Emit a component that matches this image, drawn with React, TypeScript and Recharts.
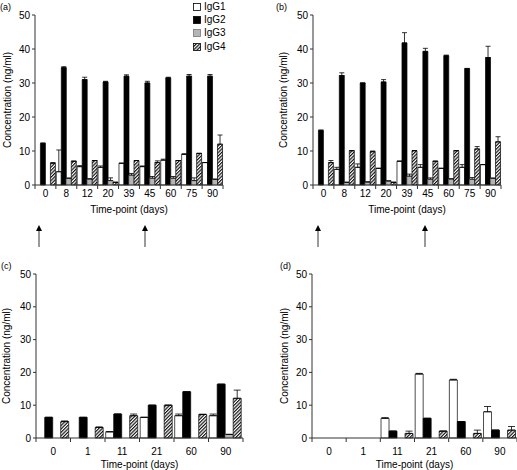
import React from 'react';
import { BarChart, Bar, XAxis, YAxis, Legend, ErrorBar } from 'recharts';

const FONT = '"Liberation Sans", Arial, Helvetica, sans-serif';

// categories (time-points in days)
const daysAB = ['0', '8', '12', '20', '39', '45', '60', '75', '90'];
const daysCD = ['0', '1', '11', '21', '60', '90'];
const yTicks = [0, 10, 20, 30, 40, 50];

// panel (a)
const aIgG1 = [0, 3.9, 5.4, 5.2, 6.4, 5.4, 7.3, 9.0, 6.6];
const aIgG1Err = [0, 6.4, 0.3, 0.4, 0, 0.2, 0.3, 0.2, 0];
const aIgG2 = [12.2, 34.5, 31, 30.3, 32, 30, 31.5, 32, 32];
const aIgG2Err = [0.2, 0.3, 0.7, 0.2, 0.4, 0.5, 0.2, 0.5, 0.5];
const aIgG3 = [0, 2, 1.8, 1.3, 2.9, 2, 2, 1.3, 1.7];
const aIgG3Err = [0, 0, 0, 0.8, 0.5, 0.5, 0.5, 0.8, 0];
const aIgG4 = [6.4, 7, 7.2, 0.8, 7.2, 6.6, 7.2, 9.3, 12];
const aIgG4Err = [0.2, 0, 0, 0, 0, 0.5, 0, 0, 2.7];

// panel (b)
const bIgG1 = [0, 4.6, 5.2, 4.9, 7, 5.2, 4.9, 5.2, 6];
const bIgG1Err = [0, 0.6, 1, 0, 0, 0.8, 0, 0.8, 0];
const bIgG2 = [16, 32.2, 30, 30.3, 41.8, 39.3, 38, 34.2, 37.5];
const bIgG2Err = [0.2, 0.8, 0, 0.7, 3, 0.9, 0.2, 0.1, 3.3];
const bIgG3 = [0, 0.8, 0.9, 1.2, 2.6, 1.7, 1.8, 1.7, 2];
const bIgG3Err = [0, 0, 0, 0, 0.6, 0.4, 0, 0.5, 0];
const bIgG4 = [6.6, 10.1, 9.8, 0.8, 10.1, 7, 10.1, 10.6, 12.7];
const bIgG4Err = [0.6, 0, 0.2, 0, 0, 0, 0, 0.7, 1.5];

// panel (c)
const cIgG1 = [0, 0, 1.9, 6.3, 6.8, 6.8];
const cIgG1Err = [0, 0, 0, 0, 0.5, 0.5];
const cIgG2 = [6.3, 6.3, 7.3, 10, 14.1, 16.4];
const cIgG2Err = [0, 0, 0, 0, 0, 0];
const cIgG3 = [0, 0, 0, 0, 0, 1.1];
const cIgG3Err = [0, 0, 0, 0, 0, 0];
const cIgG4 = [5.0, 3.2, 6.8, 10, 7.2, 12.1];
const cIgG4Err = [0.2, 0.2, 0.5, 0, 0, 2.5];

// panel (d)
const dIgG1 = [0, 0, 6, 19.5, 17.7, 8.0];
const dIgG1Err = [0, 0, 0.2, 0.2, 0.2, 1.6];
const dIgG2 = [0, 0, 2.1, 6, 5, 2.4];
const dIgG2Err = [0, 0, 0, 0, 0, 0];
const dIgG3 = [0, 0, 0, 0, 0, 0];
const dIgG3Err = [0, 0, 0, 0, 0, 0];
const dIgG4 = [0, 0, 1.4, 2.1, 1.4, 2.4];
const dIgG4Err = [0, 0, 0.7, 0, 1, 1.1];

const SERIES = [
  { key: 'g1', err: 'e1', name: 'IgG1', fill: '#ffffff', stroke: '#000' },
  { key: 'g2', err: 'e2', name: 'IgG2', fill: '#000000', stroke: '#000' },
  { key: 'g3', err: 'e3', name: 'IgG3', fill: '#b5b5b5', stroke: '#777' },
  { key: 'g4', err: 'e4', name: 'IgG4', fill: 'url(#hatch)', stroke: '#000' },
];

const buildRows = (
  days: string[],
  s: number[][],
  e: number[][],
) =>
  days.map((day, i) => ({
    day,
    g1: s[0][i], g2: s[1][i], g3: s[2][i], g4: s[3][i],
    // one-sided (upward) error bars
    e1: [0, e[0][i]], e2: [0, e[1][i]], e3: [0, e[2][i]], e4: [0, e[3][i]],
  }));

const rowsA = buildRows(daysAB, [aIgG1, aIgG2, aIgG3, aIgG4], [aIgG1Err, aIgG2Err, aIgG3Err, aIgG4Err]);
const rowsB = buildRows(daysAB, [bIgG1, bIgG2, bIgG3, bIgG4], [bIgG1Err, bIgG2Err, bIgG3Err, bIgG4Err]);
const rowsC = buildRows(daysCD, [cIgG1, cIgG2, cIgG3, cIgG4], [cIgG1Err, cIgG2Err, cIgG3Err, cIgG4Err]);
const rowsD = buildRows(daysCD, [dIgG1, dIgG2, dIgG3, dIgG4], [dIgG1Err, dIgG2Err, dIgG3Err, dIgG4Err]);

const legendContent = () => (
  <div style={{ fontFamily: FONT, fontSize: 10, color: '#000' }}>
    {SERIES.map((s) => (
      <div key={s.key} style={{ display: 'flex', alignItems: 'center', height: 13.3 }}>
        <svg width={8} height={8} style={{ display: 'block' }}>
          <rect x={0.5} y={0.5} width={7} height={7} fill={s.fill} stroke={s.stroke} strokeWidth={0.8} />
        </svg>
        <span style={{ marginLeft: 3, lineHeight: '10px' }}>{s.name}</span>
      </div>
    ))}
  </div>
);

interface PanelProps {
  rows: any[];
  left: number;
  top: number;
  width: number;
  height: number;
  marginTop: number;
  marginRight: number;
  yWidth: number;
  xHeight: number;
  labelDy: number;
  titleDy: number;
  yTitleX: number;
  capWidth: number;
  showLegend?: boolean;
}

const Panel: React.FC<PanelProps> = ({
  rows, left, top, width, height, marginTop, marginRight, yWidth, xHeight,
  labelDy, titleDy, yTitleX, capWidth, showLegend,
}) => {
  const n = rows.length;
  const band = (width - marginRight - yWidth) / n;

  const renderXTick = (props: any) => {
    const { x, y, payload, index } = props;
    return (
      <g>
        <line x1={x - band / 2} x2={x - band / 2} y1={y} y2={y + 4} stroke="#333" />
        {index === n - 1 && <line x1={x + band / 2} x2={x + band / 2} y1={y} y2={y + 4} stroke="#333" />}
        <text x={x} y={y + labelDy} textAnchor="middle" dominantBaseline="central" fontSize={10} fontFamily={FONT} fill="#000">
          {payload.value}
        </text>
      </g>
    );
  };

  const renderXTitle = (props: any) => {
    const vb = props.viewBox;
    return (
      <text x={vb.x + vb.width / 2} y={vb.y + titleDy} textAnchor="middle" dominantBaseline="central" fontSize={10} fontFamily={FONT} fill="#000">
        Time-point (days)
      </text>
    );
  };

  const renderYTitle = (props: any) => {
    const vb = props.viewBox;
    const cx = vb.x + yTitleX;
    const cy = vb.y + vb.height / 2;
    return (
      <text x={cx} y={cy} transform={`rotate(-90 ${cx} ${cy})`} textAnchor="middle" dominantBaseline="central" fontSize={10} fontFamily={FONT} fill="#000">
        Concentration (ng/ml)
      </text>
    );
  };

  return (
    <div style={{ position: 'absolute', left, top }}>
      <BarChart
        width={width}
        height={height}
        data={rows}
        margin={{ top: marginTop, right: marginRight, left: 0, bottom: 0 }}
        barCategoryGap="2%"
        barGap={0}
      >
        <defs>
          <pattern id="hatch" width={2.4} height={2.4} patternUnits="userSpaceOnUse" patternTransform="rotate(45)">
            <rect width={2.4} height={2.4} fill="#fff" />
            <line x1={0.6} y1={0} x2={0.6} y2={2.4} stroke="#000" strokeWidth={1.1} />
          </pattern>
        </defs>
        <XAxis
          dataKey="day"
          interval={0}
          height={xHeight}
          tickSize={0}
          tickMargin={0}
          tickLine={false}
          axisLine={{ stroke: '#333' }}
          tick={renderXTick}
          label={{ content: renderXTitle }}
        />
        <YAxis
          domain={[0, 50]}
          ticks={yTicks}
          width={yWidth}
          tickSize={3}
          tickMargin={2}
          axisLine={{ stroke: '#333' }}
          tickLine={{ stroke: '#333' }}
          tick={{ fontSize: 10, fill: '#000', fontFamily: FONT }}
          label={{ content: renderYTitle }}
        />
        {SERIES.map((s) => (
          <Bar key={s.key} dataKey={s.key} name={s.name} fill={s.fill} stroke={s.stroke} strokeWidth={0.7} isAnimationActive={false}>
            <ErrorBar dataKey={s.err} width={capWidth} stroke="#000" strokeWidth={0.8} direction="y" />
          </Bar>
        ))}
        {showLegend && (
          <Legend
            layout="vertical"
            align="center"
            verticalAlign="middle"
            content={legendContent}
            wrapperStyle={{ left: 193, top: 0, width: 60 }}
          />
        )}
      </BarChart>
    </div>
  );
};

// injection arrows and panel letters
const Overlay: React.FC = () => {
  const arrows = [39, 145, 318, 425];
  const letters = [
    { t: '(a)', x: 0, y: 7 },
    { t: '(b)', x: 276, y: 7 },
    { t: '(c)', x: 1, y: 266 },
    { t: '(d)', x: 280, y: 266 },
  ];
  return (
    <svg width={517} height={470} style={{ position: 'absolute', left: 0, top: 0, pointerEvents: 'none' }}>
      {arrows.map((x) => (
        <g key={x}>
          <line x1={x} x2={x} y1={229} y2={247} stroke="#000" strokeWidth={0.8} />
          <polygon points={`${x - 3},${231} ${x + 3},${231} ${x},${225}`} fill="#000" />
        </g>
      ))}
      {letters.map((l) => (
        <text key={l.t} x={l.x} y={l.y} dominantBaseline="central" fontSize={9} fontFamily={FONT} fill="#000">
          {l.t}
        </text>
      ))}
    </svg>
  );
};

export default function App() {
  return (
    <div style={{ position: 'absolute', left: 0, top: 0, width: 517, height: 470, background: '#fff' }}>
      <Panel rows={rowsA} left={0} top={0} width={230} height={225} marginTop={15} marginRight={7}
        yWidth={35} xHeight={40} labelDy={8} titleDy={24} yTitleX={7} capWidth={2.5} showLegend />
      <Panel rows={rowsB} left={278} top={0} width={230} height={225} marginTop={15} marginRight={7}
        yWidth={35} xHeight={40} labelDy={8} titleDy={24} yTitleX={5.5} capWidth={2.5} />
      <Panel rows={rowsC} left={0} top={255} width={250} height={215} marginTop={19} marginRight={7}
        yWidth={36} xHeight={32} labelDy={13} titleDy={26} yTitleX={6} capWidth={3.5} />
      <Panel rows={rowsD} left={276} top={255} width={241} height={215} marginTop={19} marginRight={0}
        yWidth={36} xHeight={32} labelDy={13} titleDy={26} yTitleX={8} capWidth={3.5} />
      <Overlay />
    </div>
  );
}
